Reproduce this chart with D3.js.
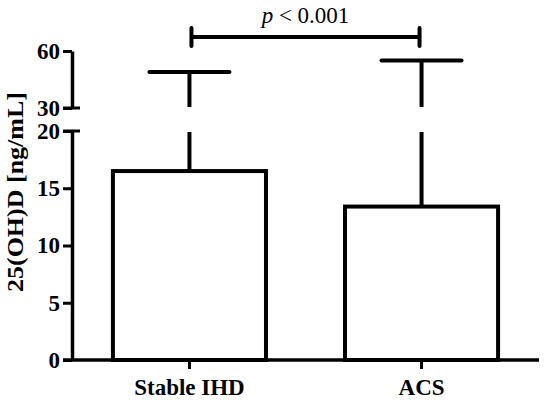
<!DOCTYPE html>
<html><head><meta charset="utf-8">
<script src="https://cdn.jsdelivr.net/npm/d3@7/dist/d3.min.js"></script>
<style>body{margin:0;background:#fff}svg{display:block}</style>
</head><body>
<svg id="c" width="550" height="402"></svg>
<script>
const categories = ["Stable IHD", "ACS"];
const means = [16.5, 13.4];
const upperErr = [49, 55];
const lowTicks = [0, 5, 10, 15, 20];
const highTicks = [30, 60];
const pLabel = "p < 0.001";
const yTitle = "25(OH)D [ng/mL]";

const svg = d3.select("#c");
const font = "Liberation Serif, serif";
const axX = 72;
const yLow = d3.scaleLinear().domain([0, 20]).range([360, 131]);
const yHigh = d3.scaleLinear().domain([30, 60]).range([108, 51]);
const x = d3.scaleBand().domain(categories).range([73, 538]).paddingInner(0.3405).paddingOuter(0.172);

// bars
const g = svg.append("g");
g.selectAll("rect.bar").data(categories).join("rect")
  .attr("x", d => x(d))
  .attr("y", (d, i) => yLow(means[i]))
  .attr("width", x.bandwidth())
  .attr("height", (d, i) => yLow(0) - yLow(means[i]))
  .attr("fill", "#fff").attr("stroke", "#000").attr("stroke-width", 4);

// error bars
const cx = d => x(d) + x.bandwidth() / 2;
g.selectAll("line.errLow").data(categories).join("line")
  .attr("x1", cx).attr("x2", cx)
  .attr("y1", (d, i) => yLow(means[i])).attr("y2", yLow(20) + 1)
  .attr("stroke", "#000").attr("stroke-width", 4);
g.selectAll("line.errHigh").data(categories).join("line")
  .attr("x1", cx).attr("x2", cx)
  .attr("y1", yHigh(30) - 1).attr("y2", (d, i) => yHigh(upperErr[i]))
  .attr("stroke", "#000").attr("stroke-width", 4);
g.selectAll("line.cap").data(categories).join("line")
  .attr("x1", d => cx(d) - 40).attr("x2", d => cx(d) + 40)
  .attr("y1", (d, i) => yHigh(upperErr[i])).attr("y2", (d, i) => yHigh(upperErr[i]))
  .attr("stroke", "#000").attr("stroke-width", 4).attr("stroke-linecap", "round");

// y axes
function styleAxis(sel) {
  sel.selectAll("path.domain").attr("stroke", "#000").attr("stroke-width", 3.5);
  sel.selectAll(".tick line").attr("stroke", "#000").attr("stroke-width", 3);
  sel.selectAll(".tick text").attr("font-family", font).attr("font-weight", "bold")
    .attr("font-size", 23).attr("fill", "#000");
}
const aLow = svg.append("g").attr("transform", `translate(${axX},0)`)
  .call(d3.axisLeft(yLow).tickValues(lowTicks).tickSize(9).tickSizeOuter(0).tickPadding(3));
styleAxis(aLow);
const aHigh = svg.append("g").attr("transform", `translate(${axX},0)`)
  .call(d3.axisLeft(yHigh).tickValues(highTicks).tickSize(9).tickSizeOuter(0).tickPadding(3));
styleAxis(aHigh);
// break marks
[yLow(20), yHigh(30)].forEach(yy => {
  svg.append("line").attr("x1", axX - 9).attr("x2", axX + 8).attr("y1", yy).attr("y2", yy)
    .attr("stroke", "#000").attr("stroke-width", 3);
});

// x axis
const ax = svg.append("g").attr("transform", `translate(0,${yLow(0)})`)
  .call(d3.axisBottom(x).tickSize(9).tickSizeOuter(0).tickPadding(6));
ax.select("path.domain").attr("d", `M${axX - 9},0H539`).attr("stroke", "#000").attr("stroke-width", 3.5);
ax.selectAll(".tick line").attr("stroke", "#000").attr("stroke-width", 3);
ax.selectAll(".tick text").attr("font-family", font).attr("font-weight", "bold")
  .attr("font-size", 23).attr("fill", "#000").attr("dy", "0.85em");

// y title
svg.append("text").attr("transform", "translate(23,192) rotate(-90)")
  .attr("text-anchor", "middle").attr("font-family", font).attr("font-weight", "bold")
  .attr("font-size", 23).attr("textLength", 200).attr("lengthAdjust", "spacingAndGlyphs")
  .text(yTitle);

// significance bracket
const bx1 = cx(categories[0]) + 2, bx2 = cx(categories[1]) - 2, by = 37;
svg.append("line").attr("x1", bx1).attr("x2", bx2).attr("y1", by).attr("y2", by)
  .attr("stroke", "#000").attr("stroke-width", 4);
[bx1, bx2].forEach(bx => svg.append("line").attr("x1", bx).attr("x2", bx)
  .attr("y1", by - 9).attr("y2", by + 9).attr("stroke", "#000").attr("stroke-width", 4)
  .attr("stroke-linecap", "round"));
const pt = svg.append("text").attr("x", (bx1 + bx2) / 2).attr("y", 23)
  .attr("text-anchor", "middle").attr("font-family", font).attr("font-size", 23);
pt.append("tspan").attr("font-style", "italic").text(pLabel.slice(0, 1));
pt.append("tspan").text(pLabel.slice(1));
</script>
</body></html>
